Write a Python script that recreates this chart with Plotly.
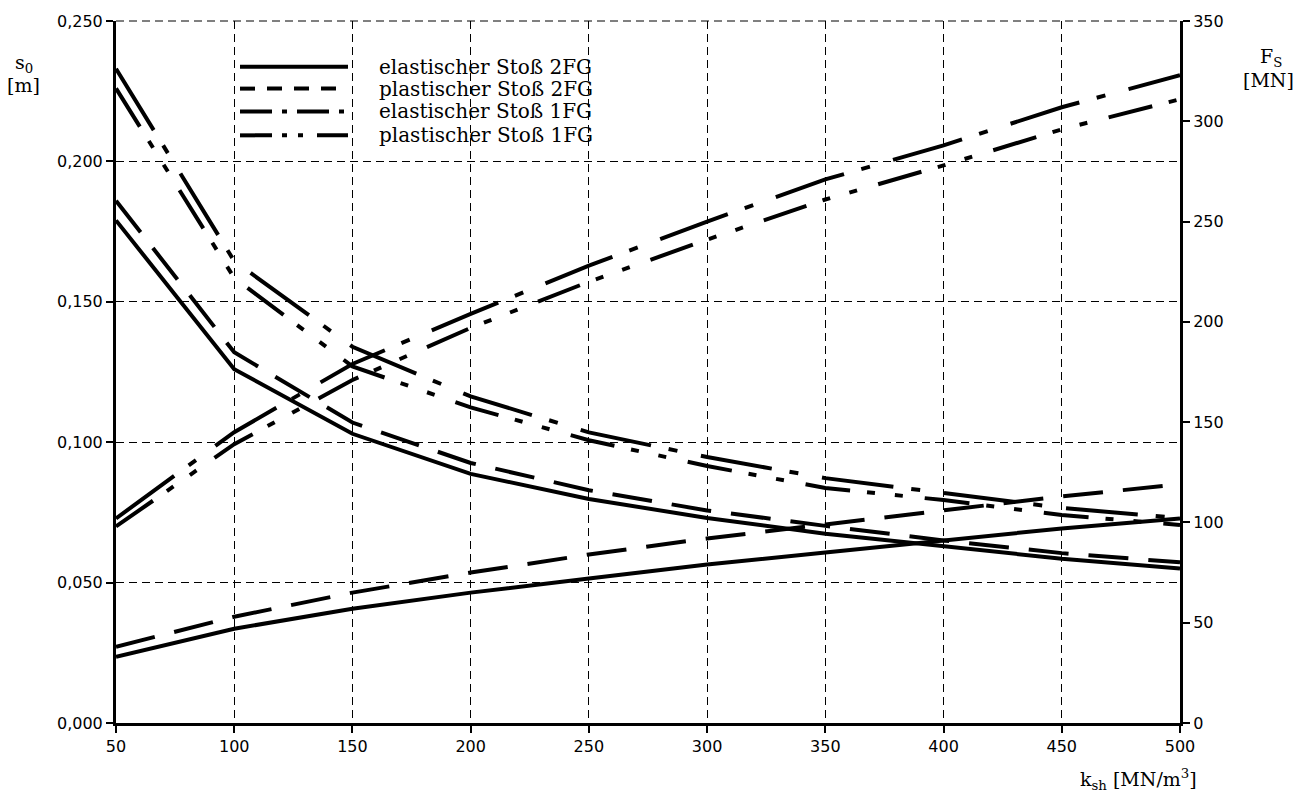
import plotly.graph_objects as go

# ---------------- data ----------------
k_sh = [50, 100, 150, 200, 250, 300, 350, 400, 450, 500]

s0_el_2fg = [0.179, 0.126, 0.103, 0.0887, 0.0798, 0.0730, 0.0674, 0.0628, 0.0585, 0.0550]
s0_pl_2fg = [0.186, 0.132, 0.107, 0.0926, 0.0829, 0.0757, 0.0702, 0.0650, 0.0605, 0.0572]
s0_el_1fg = [0.233, 0.1645, 0.134, 0.1163, 0.1035, 0.0947, 0.0872, 0.0819, 0.0766, 0.0730]
s0_pl_1fg = [0.226, 0.1585, 0.127, 0.1124, 0.1007, 0.0915, 0.0837, 0.0794, 0.0741, 0.0705]

Fs_el_2fg = [33, 47, 57, 65, 72, 79, 85, 91, 97, 102]
Fs_pl_2fg = [38, 53, 65, 75, 84, 92, 99, 106, 113, 119]
Fs_el_1fg = [102, 145, 179, 204, 228, 250, 271, 288, 307, 323]
Fs_pl_1fg = [98, 139, 171, 197, 220, 241, 261, 278, 296, 311]

x_ticks = [50, 100, 150, 200, 250, 300, 350, 400, 450, 500]
y_left_ticks = [0.0, 0.05, 0.10, 0.15, 0.20, 0.25]
y_right_ticks = [0, 50, 100, 150, 200, 250, 300, 350]

legend_labels = ["elastischer Stoß 2FG", "plastischer Stoß 2FG",
                 "elastischer Stoß 1FG", "plastischer Stoß 1FG"]

# ---------------- styles ----------------
DASH_PL2 = "40px,20px"
DASH_EL1 = "72px,18px,9px,24px"
DASH_PL1 = "45px,17px,8px,20px,8px,22px"
styles = ["solid", DASH_PL2, DASH_EL1, DASH_PL1]
legend_dash = ["solid", "15px,12px", "32px,10px,5px,10px", "32px,10px,5px,11px,5px,14px"]

W, H = 1307, 796
L, R, T, B = 116, 1180, 17, 723

def px(x):
    return (x - L) / (R - L)

def py(y):
    return (B - y) / (B - T)

fig = go.Figure()
s0_series = [s0_el_2fg, s0_pl_2fg, s0_el_1fg, s0_pl_1fg]
fs_series = [Fs_el_2fg, Fs_pl_2fg, Fs_el_1fg, Fs_pl_1fg]
for i in range(4):
    fig.add_trace(go.Scatter(x=k_sh, y=s0_series[i], mode="lines", name=legend_labels[i],
                             line=dict(color="black", width=4, dash=styles[i]),
                             showlegend=False, yaxis="y"))
    fig.add_trace(go.Scatter(x=k_sh, y=fs_series[i], mode="lines", name=legend_labels[i],
                             line=dict(color="black", width=4, dash=styles[i]),
                             showlegend=False, yaxis="y2"))

grid = dict(showgrid=True, gridcolor="black", gridwidth=1, griddash="8px,5px")
axline = dict(showline=True, linecolor="black", linewidth=3, zeroline=False,
              ticks="outside", ticklen=7, tickwidth=2, tickcolor="black",
              tickfont=dict(family="DejaVu Sans", size=16, color="black"))

fig.update_layout(
    width=W, height=H, autosize=False,
    margin=dict(l=L, r=W - R, t=T, b=H - B, pad=0),
    plot_bgcolor="white", paper_bgcolor="white",
    separators=",.",
    xaxis=dict(range=[50, 500], tickvals=x_ticks, **grid, **axline),
    yaxis=dict(range=[0, 0.25], tickvals=y_left_ticks, tickformat=".3f", **grid, **axline),
    yaxis2=dict(range=[0, 350], tickvals=y_right_ticks, overlaying="y", side="right",
                showgrid=False, **axline),
)

shapes = [dict(type="line", xref="paper", yref="paper", x0=0, x1=1, y0=1, y1=1,
               line=dict(color="black", width=1, dash="8px,5px"), layer="below")]
annotations = []
rows = [63, 85, 108, 132]
serif = "DejaVu Serif"
for i in range(4):
    shapes.append(dict(type="line", xref="paper", yref="paper",
                       x0=px(240), x1=px(348), y0=py(rows[i]), y1=py(rows[i]),
                       line=dict(color="black", width=4, dash=legend_dash[i])))
    annotations.append(dict(xref="paper", yref="paper", x=px(377), y=py(rows[i]),
                            xanchor="left", yanchor="middle", showarrow=False,
                            text=legend_labels[i],
                            font=dict(family=serif, size=20, color="black")))

annotations += [
    dict(xref="paper", yref="paper", x=px(24), y=py(60), text="s<sub>0</sub>",
         showarrow=False, xanchor="center", yanchor="middle",
         font=dict(family=serif, size=19, color="black")),
    dict(xref="paper", yref="paper", x=px(23), y=py(81), text="[m]",
         showarrow=False, xanchor="center", yanchor="middle",
         font=dict(family=serif, size=19, color="black")),
    dict(xref="paper", yref="paper", x=px(1271), y=py(54), text="F<sub>S</sub>",
         showarrow=False, xanchor="center", yanchor="middle",
         font=dict(family=serif, size=19, color="black")),
    dict(xref="paper", yref="paper", x=px(1268), y=py(76), text="[MN]",
         showarrow=False, xanchor="center", yanchor="middle",
         font=dict(family=serif, size=19, color="black")),
    dict(xref="paper", yref="paper", x=px(1199), y=py(780),
         text="k<sub>sh</sub> [MN/m<sup>3</sup>]",
         showarrow=False, xanchor="right", yanchor="middle",
         font=dict(family=serif, size=19, color="black")),
]
fig.update_layout(shapes=shapes, annotations=annotations)

fig.write_html("out.html")
